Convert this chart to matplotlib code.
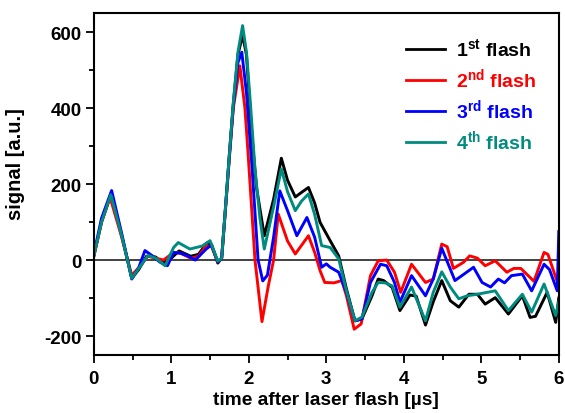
import numpy as np
import matplotlib; matplotlib.use("Agg")
import matplotlib.pyplot as plt
from matplotlib.ticker import MultipleLocator

plt.rcParams.update({"font.family": ["Liberation Sans", "DejaVu Sans"],
                     "font.weight": "bold",
                     "axes.unicode_minus": False,
                     "mathtext.fontset": "custom",
                     "mathtext.rm": "Liberation Sans",
                     "mathtext.bf": "Liberation Sans:bold"})

# 1st flash
t1 = [0, 0.1, 0.22, 0.36, 0.49, 0.58, 0.68, 0.8, 0.88, 1.0, 1.1, 1.25, 1.35, 1.46, 1.52, 1.60, 1.65,
      1.70, 1.75, 1.80, 1.86, 1.92, 1.97, 2.04, 2.10, 2.20, 2.32, 2.42, 2.50, 2.60, 2.68, 2.77, 2.85,
      2.92, 3.05, 3.16, 3.26, 3.37, 3.46, 3.59, 3.67, 3.74, 3.85, 3.95, 4.08, 4.16, 4.28, 4.38, 4.49,
      4.60, 4.71, 4.84, 4.95, 5.05, 5.18, 5.35, 5.53, 5.63, 5.70, 5.85, 5.96, 6.0]
v1 = [10, 100, 172, 64, -48, -25, 10, 8, -8, 5, 24, 10, 15, 45, 40, -8, 5,
      140, 280, 410, 540, 592, 540, 327, 190, 64, 160, 268, 210, 166, 178, 191, 150,
      99, 51, 11, -76, -160, -155, -94, -50, -54, -72, -133, -92, -95, -171, -110, -54,
      -107, -124, -90, -90, -116, -99, -142, -94, -151, -148, -85, -164, -100]

# 2nd flash
t2 = [0, 0.1, 0.21, 0.36, 0.49, 0.58, 0.70, 0.80, 0.90, 1.03, 1.12, 1.25, 1.35, 1.45, 1.52, 1.60,
      1.65, 1.70, 1.75, 1.80, 1.885, 1.95, 1.99, 2.08, 2.17, 2.25, 2.32, 2.38, 2.50, 2.60, 2.77, 2.85,
      2.92, 2.98, 3.10, 3.20, 3.26, 3.36, 3.45, 3.57, 3.67, 3.78, 3.88, 3.96, 4.10, 4.28, 4.38, 4.49,
      4.56, 4.64, 4.77, 4.85, 4.95, 5.05, 5.18, 5.33, 5.42, 5.51, 5.68, 5.81, 5.86, 5.99, 6.0]
v2 = [10, 100, 165, 60, -40, -20, 10, 5, 0, 20, 18, 5, 10, 38, 35, -5,
      5, 135, 270, 400, 511, 400, 283, 0, -162, -70, 0, 121, 50, 16, 64, 20,
      -28, -59, -60, -54, -94, -182, -168, -41, -2, 0, -32, -85, -11, -59, -50, 42,
      35, -22, -6, 11, 5, -15, -2, -32, -22, -22, -56, 20, 15, -63, -40]

# 3rd flash
t3 = [0, 0.1, 0.23, 0.36, 0.49, 0.58, 0.66, 0.75, 0.85, 0.95, 1.03, 1.12, 1.20, 1.31, 1.45, 1.52,
      1.60, 1.65, 1.70, 1.75, 1.80, 1.86, 1.91, 1.97, 2.04, 2.12, 2.18, 2.24, 2.32, 2.40, 2.50, 2.62,
      2.75, 2.85, 2.94, 3.00, 3.05, 3.16, 3.26, 3.37, 3.46, 3.57, 3.70, 3.78, 3.88, 3.95, 4.10, 4.28,
      4.38, 4.49, 4.66, 4.75, 4.90, 5.01, 5.12, 5.22, 5.30, 5.39, 5.53, 5.65, 5.81, 5.88, 5.98, 6.0]
v3 = [15, 110, 183, 70, -50, -20, 25, 12, -5, -15, 20, 18, 12, 0, 29, 40,
      -5, 5, 138, 275, 405, 520, 547, 440, 250, 0, -55, -40, 60, 182, 130, 64,
      112, 60, -19, -10, -19, -32, -85, -160, -155, -59, -11, -15, -59, -111, -41, -94,
      -50, 31, -54, -41, -19, -59, -71, -50, -60, -41, -37, -81, -11, -25, -81, 75]

# 4th flash
t4 = [0, 0.1, 0.22, 0.36, 0.49, 0.58, 0.70, 0.8, 0.92, 1.03, 1.09, 1.24, 1.40, 1.50, 1.60, 1.65,
      1.70, 1.75, 1.80, 1.86, 1.92, 1.97, 2.02, 2.08, 2.145, 2.20, 2.32, 2.42, 2.50, 2.60, 2.68, 2.77,
      2.85, 2.94, 3.05, 3.16, 3.26, 3.37, 3.46, 3.59, 3.67, 3.76, 3.85, 3.95, 4.10, 4.28, 4.38, 4.49,
      4.60, 4.71, 4.82, 4.95, 5.05, 5.18, 5.35, 5.53, 5.65, 5.81, 5.96, 6.0]
v4 = [10, 100, 172, 64, -48, -22, 12, 5, -15, 33, 46, 29, 37, 51, -3, 5,
      140, 280, 415, 547, 617, 547, 415, 240, 108, 29, 140, 240, 180, 130, 155, 174,
      120, 38, 33, 3, -81, -160, -150, -85, -59, -60, -68, -124, -71, -160, -85, -31,
      -71, -102, -94, -90, -86, -81, -133, -90, -137, -63, -146, -110]

labels = [r"1$^{\mathbf{st}}$ flash", r"2$^{\mathbf{nd}}$ flash",
          r"3$^{\mathbf{rd}}$ flash", r"4$^{\mathbf{th}}$ flash"]
colors = ["black", "#ff0000", "#0000ff", "#008b80"]

fig = plt.figure(figsize=(5.65, 4.14), dpi=100)
ax = fig.add_axes([0.166, 0.140, 0.823, 0.826])

ax.axhline(0, color="#333333", lw=1.3, zorder=1)
for t, v, lab, c in zip([t1, t2, t3, t4], [v1, v2, v3, v4], labels, colors):
    ax.plot(t, v, color=c, lw=2.1, label=lab, zorder=2)

ax.set_xlim(0, 6)
ax.set_ylim(-250, 650)
ax.xaxis.set_major_locator(MultipleLocator(1))
ax.xaxis.set_minor_locator(MultipleLocator(0.5))
ax.yaxis.set_major_locator(MultipleLocator(200))
ax.yaxis.set_minor_locator(MultipleLocator(100))
ax.tick_params(which="both", direction="out", top=False, right=False, width=1.3, labelsize=13.5)
ax.tick_params(which="major", length=6)
ax.tick_params(which="minor", length=3.6)
ax.tick_params(axis="x", which="major", pad=5)
ax.tick_params(axis="y", which="major", pad=2.5)
for s in ax.spines.values():
    s.set_linewidth(1.5)

ax.set_xlabel("time after laser flash [µs]", fontsize=13.8, fontweight="bold", labelpad=3)
ax.set_ylabel("signal [a.u.]", fontsize=14.5, fontweight="bold")
ax.yaxis.set_label_coords(-0.148, 0.56)

leg = ax.legend(loc="upper right", frameon=False, fontsize=14, handlelength=2.0,
                handletextpad=0.6, labelspacing=0.33, labelcolor="linecolor",
                borderaxespad=0.4, bbox_to_anchor=(0.985, 0.975))
for h in leg.get_lines():
    h.set_linewidth(2.0)

fig.savefig("out.png", dpi=100)
